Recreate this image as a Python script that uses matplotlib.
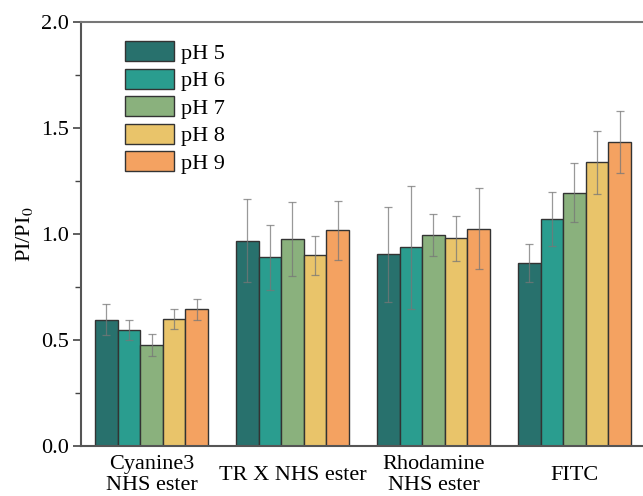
import numpy as np
from matplotlib import pyplot as plt

plt.rcParams['font.family'] = ['Liberation Serif', 'DejaVu Serif']
plt.rcParams['mathtext.fontset'] = 'stix'

categories = ['Cyanine3\nNHS ester', 'TR X NHS ester', 'Rhodamine\nNHS ester', 'FITC']
series = ['pH 5', 'pH 6', 'pH 7', 'pH 8', 'pH 9']
colors = ['#28716d', '#2a9d8f', '#8ab17d', '#e9c46a', '#f4a261']

# mean values, one list per pH, in category order
ph5 = [0.596, 0.968, 0.904, 0.863]
ph6 = [0.547, 0.890, 0.937, 1.071]
ph7 = [0.476, 0.976, 0.995, 1.195]
ph8 = [0.599, 0.898, 0.980, 1.338]
ph9 = [0.645, 1.016, 1.025, 1.434]

err5 = [0.075, 0.197, 0.225, 0.088]
err6 = [0.046, 0.154, 0.290, 0.126]
err7 = [0.051, 0.176, 0.100, 0.138]
err8 = [0.048, 0.094, 0.106, 0.149]
err9 = [0.050, 0.138, 0.193, 0.146]

values = [ph5, ph6, ph7, ph8, ph9]
errors = [err5, err6, err7, err8, err9]

fig = plt.figure(figsize=(6.43, 4.96), dpi=100)
ax = fig.add_axes([0.126, 0.101, 0.877, 0.855])

x = np.arange(len(categories))
width = 0.16
for i, (vals, errs) in enumerate(zip(values, errors)):
    pos = x + (i - 2) * width
    ax.bar(pos, vals, width, color=colors[i], edgecolor='#333333',
           linewidth=1.0, label=series[i], zorder=2)
    ax.errorbar(pos, vals, yerr=errs, fmt='none', ecolor='#777777',
                alpha=0.75, elinewidth=0.9, capsize=3, capthick=0.9, zorder=3)

ax.set_xlim(-0.5, 3.5)
ax.set_ylim(0, 2.0)
ax.set_yticks([0.0, 0.5, 1.0, 1.5, 2.0])
ax.set_yticks([0.25, 0.75, 1.25, 1.75], minor=True)
ax.set_xticks(x)
ax.set_xticklabels(categories, fontsize=16, linespacing=1.15)
for lab in ax.get_xticklabels():
    lab.set_va('center')
ax.tick_params(axis='x', length=0, pad=21)
ax.tick_params(axis='y', which='major', direction='out', length=6, width=1.2,
               colors='#444444', labelcolor='black', labelsize=16, pad=3)
ax.tick_params(axis='y', which='minor', direction='out', length=4, width=1.0,
               colors='#444444')
ax.set_ylabel('PI/PI$_0$', fontsize=16, labelpad=4)

ax.spines['top'].set_color('#777777')
ax.spines['top'].set_linewidth(1.5)
for side in ['left', 'bottom', 'right']:
    ax.spines[side].set_color('#555555')
    ax.spines[side].set_linewidth(1.5)

ax.legend(loc='upper left', bbox_to_anchor=(0.063, 0.975), frameon=False,
          fontsize=16, handlelength=2.2, handleheight=1.0,
          labelspacing=0.22, handletextpad=0.3, borderaxespad=0)

fig.savefig('out.png', dpi=100)
